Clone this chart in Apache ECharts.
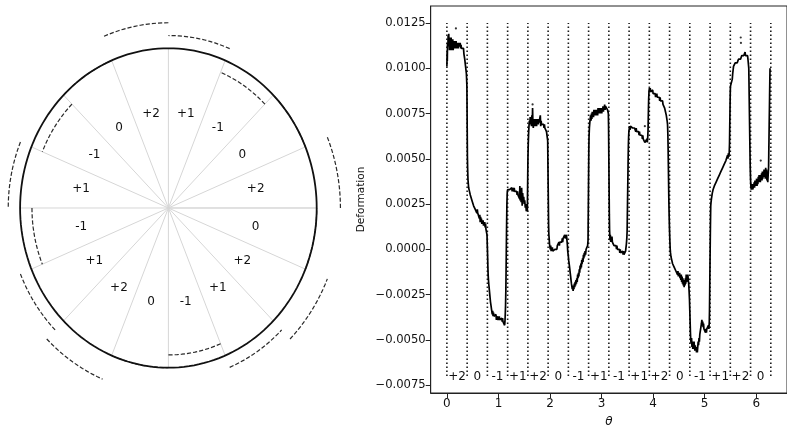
<!DOCTYPE html>
<html>
<head>
<meta charset="utf-8">
<script src="https://cdn.jsdelivr.net/npm/echarts@6/dist/echarts.min.js"></script>
<style>
html,body{margin:0;padding:0;background:#fff;}
#chart{width:787px;height:433px;}
</style>
</head>
<body>
<div id="chart"></div>
<script>
// ---------- Left diagram data ----------
const sectorLabels = ['+2','0','-1','+1','+2','0','-1','+1','-1','+1','+2','0','-1','+1','+2','0'];
const sectorStartDeg = [0,22.5,45,67.5,90,112.5,135,157.5,180,202.5,225,247.5,270,292.5,315,337.5];
const sectorEndDeg   = [22.5,45,67.5,90,112.5,135,157.5,180,202.5,225,247.5,270,292.5,315,337.5,360];
const sectorMidDeg   = [11.25,33.75,56.25,78.75,101.25,123.75,146.25,168.75,191.25,213.75,236.25,258.75,281.25,303.75,326.25,348.75];
const arcRadius      = [1.16,1.0,0.92,1.08,1.16,1.0,0.92,1.08,0.92,1.08,1.16,1.0,0.92,1.08,1.16,1.0];
const spokeDeg       = [0,22.5,45,67.5,90,112.5,135,157.5,180,202.5,225,247.5,270,292.5,315,337.5,360];
const labelRadius    = 0.6;

// ---------- Right plot data ----------
const boundaryTheta = [0,0.3927,0.7854,1.1781,1.5708,1.9635,2.3562,2.7489,3.1416,3.5343,3.9270,4.3197,4.7124,5.1051,5.4978,5.8905,6.2832];
const midTheta = [0.1963,0.5890,0.9817,1.3744,1.7671,2.1598,2.5525,2.9452,3.3379,3.7306,4.1233,4.5160,4.9087,5.3014,5.6941,6.0868];
const xTicks = [0,1,2,3,4,5,6];
const yTicks = [-0.0075,-0.005,-0.0025,0,0.0025,0.005,0.0075,0.01,0.0125];

const traceS00 = [[0.000,0.0101],[0.004,0.0109],[0.008,0.0104],[0.012,0.0114],[0.018,0.0110],[0.024,0.0118],[0.030,0.0112],[0.036,0.0119],[0.042,0.0113],[0.050,0.0117],[0.058,0.0110],[0.066,0.0116],[0.074,0.0111],[0.082,0.0117],[0.090,0.0110],[0.098,0.0115],[0.106,0.0111],[0.114,0.0116],[0.122,0.0110],[0.130,0.0114],[0.138,0.0111],[0.146,0.0115],[0.154,0.0111],[0.162,0.0114],[0.170,0.0112],[0.178,0.0115],[0.186,0.0111],[0.194,0.0114],[0.202,0.0112],[0.210,0.0114],[0.218,0.0111],[0.226,0.0114],[0.234,0.0112],[0.242,0.0113],[0.250,0.0111],[0.258,0.0114],[0.266,0.0111],[0.274,0.0113],[0.282,0.0111],[0.290,0.0112],[0.298,0.0110],[0.306,0.0112],[0.314,0.0110],[0.322,0.0111],[0.330,0.0108],[0.338,0.0108],[0.346,0.0105],[0.354,0.0104],[0.362,0.0101],[0.370,0.0100],[0.378,0.0097],[0.384,0.0093],
  [0.388,0.0090],[0.390,0.0082],[0.392,0.0074],[0.394,0.0066],[0.396,0.0058],[0.398,0.0051],[0.402,0.0045],[0.406,0.0041],[0.410,0.0038]];
const traceS01 = [[0.414,0.0037],[0.422,0.0034],[0.430,0.0035],[0.438,0.0032],[0.446,0.0032],[0.454,0.0030],[0.462,0.0031],[0.470,0.0029],[0.478,0.0029],[0.486,0.0027],[0.494,0.0028],[0.502,0.0026],[0.510,0.0026],[0.518,0.0024],[0.526,0.0025],[0.534,0.0023],[0.542,0.0024],[0.550,0.0022],[0.558,0.0023],[0.566,0.0021],[0.574,0.0022],[0.582,0.0020],[0.590,0.0022],[0.598,0.0020],[0.606,0.0021],[0.614,0.0019],[0.622,0.0021],[0.630,0.0017],[0.638,0.0019],[0.646,0.0015],[0.654,0.0018],[0.662,0.0015],[0.670,0.0017],[0.678,0.0014],[0.686,0.0016],[0.694,0.0014],[0.702,0.0016],[0.710,0.0013],[0.718,0.0015],[0.726,0.0013],[0.734,0.0015],[0.742,0.0012],[0.750,0.0014],[0.758,0.0011],[0.766,0.0012],[0.772,0.0010],
  [0.778,0.0008],[0.784,0.0002],[0.790,-0.0004],[0.795,-0.0010],[0.800,-0.0014],[0.806,-0.0017],[0.815,-0.0020],[0.825,-0.0023],[0.835,-0.0026],[0.845,-0.0029],[0.855,-0.0031],[0.865,-0.0033]];
const traceS02 = [[0.872,-0.0034],[0.880,-0.0036],[0.888,-0.0034],[0.896,-0.0037],[0.904,-0.0035],[0.912,-0.0037],[0.920,-0.0036],[0.928,-0.0038],[0.936,-0.0036],[0.944,-0.0038],[0.952,-0.0036],[0.960,-0.0039],[0.968,-0.0037],[0.976,-0.0038],[0.984,-0.0037],[0.992,-0.0039],[1.000,-0.0037],[1.008,-0.0039],[1.016,-0.0037],[1.024,-0.0039],[1.032,-0.0038],[1.040,-0.0040],[1.048,-0.0038],[1.056,-0.0039],[1.064,-0.0038],[1.072,-0.0040],[1.080,-0.0038],[1.088,-0.0040],[1.096,-0.0039],[1.104,-0.0041],[1.112,-0.0039],[1.120,-0.0042],[1.126,-0.0040],[1.132,-0.0036],[1.138,-0.0031],
  [1.144,-0.0022],[1.148,-0.0012],[1.152,-0.0002],[1.156,0.0008],[1.160,0.0017],[1.164,0.0025],[1.170,0.0031]];
const traceS03 = [[1.178,0.0033],[1.186,0.0032],[1.194,0.0034],[1.202,0.0032],[1.210,0.0034],[1.218,0.0033],[1.226,0.0034],[1.234,0.0032],[1.242,0.0034],[1.250,0.0033],[1.258,0.0034],[1.266,0.0032],[1.274,0.0034],[1.282,0.0033],[1.290,0.0034],[1.298,0.0032],[1.306,0.0034],[1.314,0.0032],[1.322,0.0033],[1.330,0.0031],[1.338,0.0033],[1.346,0.0031],[1.354,0.0032],[1.362,0.0030],[1.370,0.0032],[1.378,0.0030],[1.386,0.0031],[1.394,0.0029],[1.400,0.0031],[1.410,0.0028],[1.415,0.0035],[1.420,0.0027],[1.430,0.0033],[1.440,0.0026],[1.450,0.0034],[1.460,0.0024],[1.470,0.0031],[1.480,0.0026],[1.490,0.0029],[1.500,0.0025],[1.510,0.0027],[1.520,0.0023],[1.530,0.0025],[1.540,0.0021],[1.550,0.0023],[1.560,0.0021],
  [1.564,0.0030],[1.568,0.0040],[1.572,0.0050],[1.578,0.0058],[1.585,0.0064],[1.592,0.0068],[1.600,0.0071],[1.608,0.0069],[1.616,0.0073]];
const traceS04 = [[1.624,0.0070],[1.632,0.0073],[1.640,0.0068],[1.648,0.0074],[1.656,0.0069],[1.662,0.0078],[1.668,0.0070],[1.676,0.0067],[1.684,0.0072],[1.692,0.0068],[1.700,0.0071],[1.708,0.0068],[1.716,0.0072],[1.724,0.0069],[1.732,0.0071],[1.740,0.0068],[1.748,0.0072],[1.756,0.0069],[1.764,0.0071],[1.772,0.0069],[1.780,0.0072],[1.788,0.0070],[1.796,0.0071],[1.804,0.0069],[1.812,0.0074],[1.820,0.0068],[1.828,0.0071],[1.836,0.0069],[1.844,0.0070],[1.852,0.0068],[1.860,0.0070],[1.868,0.0068],[1.876,0.0069],[1.884,0.0067],[1.892,0.0069],[1.900,0.0067],[1.908,0.0068],[1.916,0.0066],[1.924,0.0067],[1.932,0.0065],[1.940,0.0066],[1.948,0.0064],
  [1.955,0.0060],[1.958,0.0052],[1.961,0.0044],[1.964,0.0036],[1.967,0.0028],[1.970,0.0020],[1.973,0.0013],[1.978,0.0008]];
const traceS05 = [[1.984,0.0006],[1.990,0.0003],[1.998,0.0002],[2.006,0.0000],[2.014,0.0002],[2.022,-0.0001],[2.030,0.0001],[2.038,-0.0001],[2.046,0.0001],[2.054,-0.0001],[2.062,0.0000],[2.070,-0.0002],[2.078,0.0000],[2.086,-0.0001],[2.094,0.0000],[2.102,-0.0001],[2.110,0.0001],[2.118,-0.0001],[2.126,0.0001],[2.134,0.0000],[2.142,0.0002],[2.150,0.0001],[2.158,0.0003],[2.166,0.0002],[2.174,0.0004],[2.182,0.0002],[2.190,0.0004],[2.198,0.0003],[2.206,0.0005],[2.214,0.0003],[2.222,0.0005],[2.230,0.0004],[2.238,0.0006],[2.246,0.0004],[2.254,0.0006],[2.262,0.0005],[2.270,0.0007],[2.278,0.0006],[2.286,0.0008],[2.294,0.0006],[2.302,0.0007],[2.310,0.0005],[2.318,0.0008],[2.326,0.0006]];
const traceS06 = [[2.332,0.0004],[2.338,0.0002],[2.344,-0.0001],[2.350,-0.0002],[2.356,-0.0004],[2.362,-0.0006],[2.368,-0.0007],[2.376,-0.0009],[2.384,-0.0011],[2.392,-0.0013],[2.400,-0.0015],[2.408,-0.0017],[2.416,-0.0019],[2.424,-0.0020],[2.432,-0.0022],[2.440,-0.0020],[2.448,-0.0023],[2.456,-0.0020],[2.464,-0.0022],[2.472,-0.0019],[2.480,-0.0021],[2.488,-0.0018],[2.496,-0.0020],[2.504,-0.0017],[2.512,-0.0019],[2.520,-0.0016],[2.528,-0.0018],[2.536,-0.0014],[2.544,-0.0016],[2.552,-0.0013],[2.560,-0.0015],[2.568,-0.0011],[2.576,-0.0013],[2.584,-0.0009],[2.592,-0.0011],[2.600,-0.0008],[2.608,-0.0010],[2.616,-0.0006],[2.624,-0.0008],[2.632,-0.0005],[2.640,-0.0007],[2.648,-0.0003],[2.656,-0.0005],[2.664,-0.0002],[2.672,-0.0004],[2.680,-0.0001],[2.690,-0.0003],[2.700,0.0000],[2.710,-0.0001],[2.720,0.0001],[2.730,0.0002],
  [2.738,0.0005],[2.741,0.0015],[2.744,0.0025],[2.747,0.0035],[2.750,0.0045],[2.753,0.0055],[2.757,0.0062],[2.764,0.0067],[2.772,0.0070]];
const traceS07 = [[2.780,0.0072],[2.788,0.0074],[2.796,0.0071],[2.804,0.0075],[2.812,0.0072],[2.820,0.0076],[2.828,0.0073],[2.836,0.0076],[2.844,0.0073],[2.852,0.0077],[2.860,0.0074],[2.868,0.0076],[2.876,0.0074],[2.884,0.0077],[2.892,0.0074],[2.900,0.0077],[2.908,0.0075],[2.916,0.0077],[2.924,0.0074],[2.932,0.0078],[2.940,0.0075],[2.948,0.0077],[2.956,0.0075],[2.964,0.0078],[2.972,0.0075],[2.980,0.0078],[2.988,0.0076],[2.996,0.0078],[3.004,0.0075],[3.012,0.0078],[3.020,0.0076],[3.028,0.0079],[3.036,0.0076],[3.044,0.0079],[3.052,0.0077],[3.060,0.0080],[3.068,0.0077],[3.076,0.0079],[3.084,0.0078],[3.092,0.0080],[3.100,0.0078],[3.108,0.0079],[3.116,0.0077],[3.124,0.0078],[3.132,0.0075],
  [3.136,0.0068],[3.139,0.0058],[3.142,0.0048],[3.145,0.0038],[3.148,0.0028],[3.151,0.0019],[3.155,0.0011]];
const traceS08 = [[3.158,0.0009],[3.164,0.0005],[3.170,0.0008],[3.178,0.0004],[3.186,0.0007],[3.194,0.0005],[3.202,0.0007],[3.210,0.0004],[3.218,0.0005],[3.226,0.0003],[3.234,0.0004],[3.242,0.0002],[3.250,0.0003],[3.258,0.0001],[3.266,0.0003],[3.274,0.0001],[3.282,0.0002],[3.290,0.0000],[3.298,0.0002],[3.306,0.0000],[3.314,0.0001],[3.322,-0.0001],[3.330,0.0001],[3.338,-0.0001],[3.346,0.0000],[3.354,-0.0002],[3.362,0.0000],[3.370,-0.0002],[3.378,-0.0001],[3.386,-0.0003],[3.394,-0.0001],[3.402,-0.0003],[3.410,-0.0001],[3.418,-0.0003],[3.426,-0.0001],[3.434,-0.0003],[3.442,-0.0002],[3.450,-0.0003],[3.458,-0.0002],[3.466,-0.0001],[3.474,0.0000],[3.482,0.0003],[3.490,0.0006],
  [3.496,0.0010],[3.500,0.0018],[3.504,0.0026],[3.508,0.0034],[3.512,0.0042],[3.516,0.0050],[3.520,0.0057],[3.525,0.0062],[3.530,0.0065]];
const traceS09 = [[3.536,0.0066],[3.544,0.0068],[3.552,0.0066],[3.560,0.0068],[3.568,0.0067],[3.576,0.0069],[3.584,0.0067],[3.592,0.0068],[3.600,0.0067],[3.608,0.0068],[3.616,0.0066],[3.624,0.0068],[3.632,0.0066],[3.640,0.0067],[3.648,0.0066],[3.656,0.0067],[3.664,0.0065],[3.672,0.0067],[3.680,0.0065],[3.688,0.0066],[3.696,0.0064],[3.704,0.0066],[3.712,0.0064],[3.720,0.0065],[3.728,0.0063],[3.736,0.0065],[3.744,0.0063],[3.752,0.0064],[3.760,0.0062],[3.768,0.0064],[3.776,0.0062],[3.784,0.0063],[3.792,0.0061],[3.800,0.0063],[3.808,0.0061],[3.816,0.0062],[3.824,0.0060],[3.832,0.0061],[3.840,0.0059],[3.848,0.0060],[3.856,0.0058],[3.864,0.0060],[3.872,0.0058],[3.880,0.0061],[3.888,0.0059],[3.896,0.0062],
  [3.902,0.0066],[3.906,0.0072],[3.910,0.0078],[3.914,0.0083],[3.920,0.0087]];
const traceS10 = [[3.928,0.0089],[3.936,0.0087],[3.944,0.0089],[3.952,0.0087],[3.960,0.0088],[3.968,0.0086],[3.976,0.0088],[3.984,0.0086],[3.992,0.0088],[4.000,0.0086],[4.008,0.0087],[4.016,0.0085],[4.024,0.0087],[4.032,0.0085],[4.040,0.0086],[4.048,0.0084],[4.056,0.0086],[4.064,0.0084],[4.072,0.0086],[4.080,0.0084],[4.088,0.0085],[4.096,0.0083],[4.104,0.0085],[4.112,0.0083],[4.120,0.0084],[4.128,0.0082],[4.136,0.0084],[4.144,0.0082],[4.152,0.0083],[4.160,0.0081],[4.168,0.0083],[4.176,0.0081],[4.184,0.0082],[4.192,0.0080],[4.200,0.0081],[4.208,0.0079],[4.216,0.0080],[4.224,0.0078],[4.232,0.0078],[4.240,0.0076],[4.248,0.0076],[4.256,0.0074],[4.264,0.0073],[4.272,0.0071],[4.280,0.0069],
  [4.286,0.0064],[4.290,0.0058],[4.294,0.0050],[4.298,0.0042],[4.302,0.0034],[4.306,0.0026],[4.312,0.0018],[4.318,0.0011],[4.326,0.0004],[4.332,0.0000]];
const traceS11 = [[4.338,-0.0002],[4.346,-0.0004],[4.354,-0.0003],[4.362,-0.0006],[4.370,-0.0005],[4.378,-0.0008],[4.386,-0.0007],[4.394,-0.0009],[4.402,-0.0008],[4.410,-0.0010],[4.418,-0.0009],[4.426,-0.0011],[4.434,-0.0010],[4.442,-0.0012],[4.450,-0.0011],[4.458,-0.0013],[4.466,-0.0011],[4.474,-0.0014],[4.482,-0.0012],[4.490,-0.0015],[4.498,-0.0013],[4.506,-0.0015],[4.514,-0.0013],[4.522,-0.0016],[4.530,-0.0014],[4.538,-0.0017],[4.546,-0.0014],[4.554,-0.0018],[4.562,-0.0015],[4.570,-0.0019],[4.578,-0.0016],[4.586,-0.0020],[4.594,-0.0017],[4.602,-0.0021],[4.610,-0.0018],[4.618,-0.0020],[4.626,-0.0016],[4.634,-0.0019],[4.642,-0.0014],[4.650,-0.0018],[4.658,-0.0015],[4.666,-0.0017],[4.674,-0.0014],[4.682,-0.0017],[4.690,-0.0019],[4.698,-0.0023],
  [4.706,-0.0028],[4.712,-0.0034],[4.718,-0.0040],[4.724,-0.0046],[4.730,-0.0050]];
const traceS12 = [[4.738,-0.0052],[4.746,-0.0049],[4.754,-0.0054],[4.762,-0.0051],[4.770,-0.0055],[4.778,-0.0052],[4.786,-0.0055],[4.794,-0.0051],[4.802,-0.0054],[4.810,-0.0056],[4.818,-0.0053],[4.826,-0.0056],[4.834,-0.0054],[4.842,-0.0057],[4.850,-0.0055],[4.858,-0.0057],[4.866,-0.0054],[4.874,-0.0051],[4.882,-0.0053],[4.890,-0.0049],[4.898,-0.0051],[4.906,-0.0047],[4.914,-0.0048],[4.922,-0.0044],[4.930,-0.0045],[4.938,-0.0041],[4.946,-0.0039],[4.954,-0.0042],[4.962,-0.0040],[4.970,-0.0043],[4.978,-0.0041],[4.986,-0.0044],[4.994,-0.0043],[5.002,-0.0045],[5.010,-0.0043],[5.018,-0.0046],[5.026,-0.0044],[5.034,-0.0046],[5.042,-0.0044],[5.050,-0.0045],[5.058,-0.0043],[5.066,-0.0045],[5.074,-0.0042],[5.082,-0.0044],[5.090,-0.0040],
  [5.094,-0.0034],[5.097,-0.0026],[5.100,-0.0018],[5.103,-0.0010],[5.106,-0.0002],[5.109,0.0006],[5.112,0.0013],[5.115,0.0019],[5.118,0.0024]];
const traceS13 = [[5.124,0.0026],[5.132,0.0028],[5.140,0.0029],[5.148,0.0031],[5.156,0.0032],[5.164,0.0033],[5.172,0.0034],[5.180,0.0034],[5.188,0.0035],[5.196,0.0035],[5.204,0.0036],[5.212,0.0036],[5.220,0.0037],[5.228,0.0037],[5.236,0.0038],[5.244,0.0038],[5.252,0.0039],[5.260,0.0039],[5.268,0.0040],[5.276,0.0040],[5.284,0.0041],[5.292,0.0041],[5.300,0.0042],[5.308,0.0042],[5.316,0.0043],[5.324,0.0043],[5.332,0.0044],[5.340,0.0044],[5.348,0.0045],[5.356,0.0045],[5.364,0.0046],[5.372,0.0046],[5.380,0.0047],[5.388,0.0047],[5.396,0.0048],[5.404,0.0048],[5.412,0.0049],[5.420,0.0048],[5.428,0.0050],[5.436,0.0049],[5.444,0.0052],[5.452,0.0050],[5.460,0.0053],[5.468,0.0051],[5.476,0.0053],
  [5.482,0.0058],[5.485,0.0064],[5.488,0.0070],[5.491,0.0076],[5.494,0.0082],[5.497,0.0087],[5.500,0.0090]];
const traceS14 = [[5.504,0.0089],[5.512,0.0091],[5.520,0.0089],[5.528,0.0091],[5.536,0.0094],[5.544,0.0097],[5.552,0.0099],[5.560,0.0101],[5.568,0.0100],[5.576,0.0102],[5.584,0.0101],[5.592,0.0103],[5.600,0.0102],[5.608,0.0103],[5.616,0.0102],[5.624,0.0104],[5.632,0.0103],[5.640,0.0104],[5.648,0.0103],[5.656,0.0105],[5.664,0.0104],[5.672,0.0105],[5.680,0.0104],[5.688,0.0106],[5.696,0.0105],[5.704,0.0106],[5.712,0.0105],[5.720,0.0107],[5.728,0.0106],[5.736,0.0107],[5.744,0.0106],[5.752,0.0108],[5.760,0.0107],[5.768,0.0108],[5.776,0.0107],[5.784,0.0109],[5.792,0.0107],[5.800,0.0108],[5.808,0.0106],[5.816,0.0108],[5.824,0.0106],[5.832,0.0107],[5.840,0.0105],[5.848,0.0105],
  [5.856,0.0100],[5.860,0.0092],[5.864,0.0084],[5.868,0.0076],[5.872,0.0068],[5.876,0.0060],[5.880,0.0052],[5.884,0.0045],[5.890,0.0039],[5.896,0.0035]];
const traceS15 = [[5.904,0.0033],[5.912,0.0036],[5.920,0.0033],[5.928,0.0035],[5.936,0.0033],[5.944,0.0036],[5.952,0.0034],[5.960,0.0037],[5.968,0.0034],[5.976,0.0038],[5.984,0.0035],[5.992,0.0038],[6.000,0.0036],[6.008,0.0039],[6.016,0.0035],[6.024,0.0039],[6.032,0.0036],[6.040,0.0040],[6.048,0.0037],[6.056,0.0041],[6.064,0.0037],[6.072,0.0040],[6.080,0.0037],[6.088,0.0041],[6.096,0.0038],[6.104,0.0042],[6.112,0.0038],[6.120,0.0043],[6.128,0.0039],[6.136,0.0043],[6.144,0.0040],[6.152,0.0044],[6.160,0.0040],[6.168,0.0044],[6.176,0.0039],[6.184,0.0045],[6.192,0.0040],[6.200,0.0044],[6.208,0.0038],[6.216,0.0043],[6.224,0.0037],[6.232,0.0041],
  [6.240,0.0045],[6.244,0.0053],[6.248,0.0061],[6.252,0.0069],[6.256,0.0077],[6.260,0.0085],[6.264,0.0093],[6.268,0.0100]];
const outliers = [[0.175,0.0122],[1.662,0.0080],[2.610,-0.0008],[3.840,0.0068],[5.700,0.0117],[5.704,0.0114],[6.088,0.0049]];

const trace = [].concat(traceS00,traceS01,traceS02,traceS03,traceS04,traceS05,traceS06,traceS07,
  traceS08,traceS09,traceS10,traceS11,traceS12,traceS13,traceS14,traceS15);

// ---------- Chart ----------
const FONT = 'DejaVu Sans';
const chart = echarts.init(document.getElementById('chart'), null, {renderer:'canvas'});
const D2R = Math.PI / 180;

function ellArc(style) {
  return function (params, api) {
    const a0 = api.value(0), a1 = api.value(1), r = api.value(2);
    const pts = [];
    const n = Math.max(12, Math.round((a1 - a0) / 2));
    for (let i = 0; i <= n; i++) {
      const t = (a0 + (a1 - a0) * i / n) * D2R;
      pts.push(api.coord([r * Math.cos(t), r * Math.sin(t)]));
    }
    return {type:'polyline', shape:{points:pts}, style:Object.assign({fill:null}, style)};
  };
}

const option = {
  animation: false,
  grid: [
    {left: 0, top: 0, width: 350, height: 433, show: false},
    {left: 430.7, top: 6, width: 365.9, height: 392.3, show: true, borderColor: '#222', borderWidth: 1}
  ],
  xAxis: [
    {gridIndex: 0, type: 'value', min: -1.1355, max: 1.2245, show: false},
    {gridIndex: 1, type: 'value', min: -0.3142, max: 6.5973,
     axisLine: {show: true, onZero: false, lineStyle: {color: '#222', width: 1}},
     axisTick: {show: true, customValues: xTicks, length: 5, lineStyle: {color: '#222'}},
     axisLabel: {show: true, customValues: xTicks, color: '#111', fontFamily: FONT, fontSize: 12, margin: 5},
     splitLine: {show: false},
     name: 'θ', nameLocation: 'middle', nameGap: 23,
     nameTextStyle: {color: '#111', fontFamily: FONT, fontSize: 12, fontStyle: 'italic'}}
  ],
  yAxis: [
    {gridIndex: 0, type: 'value', min: -1.4089, max: 1.3024, show: false},
    {gridIndex: 1, type: 'value', min: -0.00794, max: 0.01344,
     axisLine: {show: true, onZero: false, lineStyle: {color: '#222', width: 1}},
     axisTick: {show: true, customValues: yTicks, length: 5, lineStyle: {color: '#222'}},
     axisLabel: {show: true, customValues: yTicks, color: '#111', fontFamily: FONT, fontSize: 11.6, margin: 5,
       formatter: v => (v < 0 ? '\u2212' : '') + Math.abs(v).toFixed(4)},
     splitLine: {show: false},
     name: 'Deformation', nameLocation: 'middle', nameGap: 64, nameRotate: 90,
     nameTextStyle: {color: '#111', fontFamily: FONT, fontSize: 10.5}}
  ],
  series: [
    // spokes
    {type: 'custom', xAxisIndex: 0, yAxisIndex: 0, z: 1,
     data: spokeDeg.map(d => [d, 1]),
     renderItem: function (params, api) {
       const t = api.value(0) * D2R;
       const p0 = api.coord([0, 0]);
       const p1 = api.coord([Math.cos(t), Math.sin(t)]);
       return {type: 'line', shape: {x1: p0[0], y1: p0[1], x2: p1[0], y2: p1[1]},
               style: {stroke: '#d6d6d6', lineWidth: 1}};
     }},
    // dashed arcs
    {type: 'custom', xAxisIndex: 0, yAxisIndex: 0, z: 2,
     data: sectorStartDeg.map((s, i) => [s, sectorEndDeg[i], arcRadius[i]]),
     renderItem: ellArc({stroke: '#2a2a2a', lineWidth: 1.2, lineDash: [4.2, 2]})},
    // unit circle
    {type: 'custom', xAxisIndex: 0, yAxisIndex: 0, z: 3,
     data: [[0, 360, 1]],
     renderItem: ellArc({stroke: '#111', lineWidth: 1.8})},
    // sector labels
    {type: 'custom', xAxisIndex: 0, yAxisIndex: 0, z: 4,
     data: sectorMidDeg.map(d => [d, labelRadius]),
     renderItem: function (params, api) {
       const t = api.value(0) * D2R, r = api.value(1);
       const p = api.coord([r * Math.cos(t), r * Math.sin(t)]);
       return {type: 'text', x: p[0], y: p[1],
               style: {text: sectorLabels[params.dataIndex], fill: '#111', font: '12px "DejaVu Sans"',
                       textAlign: 'center', textVerticalAlign: 'middle'}};
     }},
    // dotted sector boundaries
    {type: 'custom', xAxisIndex: 1, yAxisIndex: 1, z: 1,
     data: boundaryTheta.map(t => [t, -0.007, 0.0125]),
     renderItem: function (params, api) {
       const p0 = api.coord([api.value(0), api.value(1)]);
       const p1 = api.coord([api.value(0), api.value(2)]);
       return {type: 'line', shape: {x1: p0[0], y1: p0[1], x2: p1[0], y2: p1[1]},
               style: {stroke: '#1a1a1a', lineWidth: 1.6, lineDash: [1.6, 2.4]}};
     }},
    // bottom labels
    {type: 'custom', xAxisIndex: 1, yAxisIndex: 1, z: 4,
     data: midTheta.map(t => [t, -0.00705]),
     renderItem: function (params, api) {
       const p = api.coord([api.value(0), api.value(1)]);
       return {type: 'text', x: p[0], y: p[1],
               style: {text: sectorLabels[params.dataIndex], fill: '#111', font: '12px "DejaVu Sans"',
                       textAlign: 'center', textVerticalAlign: 'middle'}};
     }},
    // deformation trace
    {type: 'line', xAxisIndex: 1, yAxisIndex: 1, z: 3, data: trace,
     showSymbol: false, symbol: 'none', smooth: false, sampling: null,
     lineStyle: {color: '#000', width: 1.7}},
    {type: 'scatter', xAxisIndex: 1, yAxisIndex: 1, z: 3, data: outliers,
     symbolSize: 2.2, itemStyle: {color: '#000'}}
  ]
};
chart.setOption(option);
</script>
</body>
</html>
